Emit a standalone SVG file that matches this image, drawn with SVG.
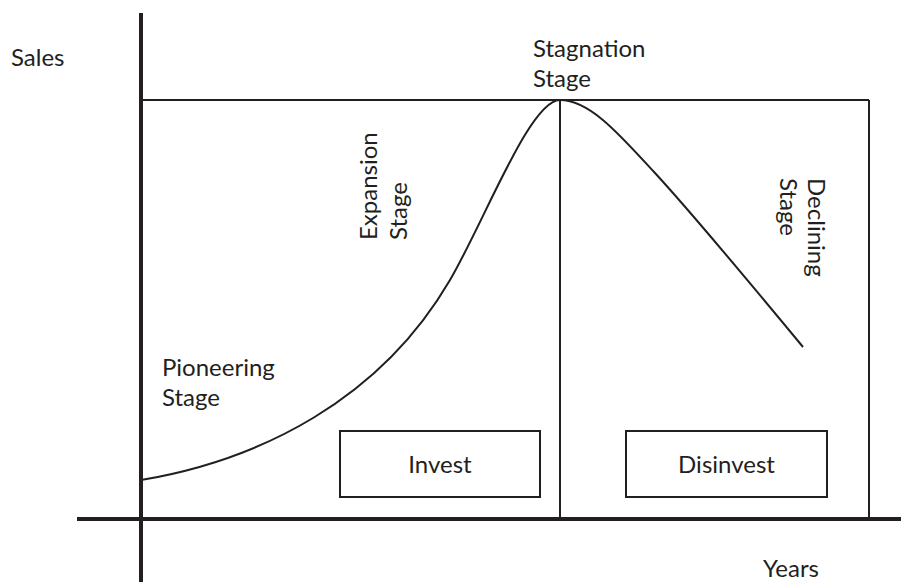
<svg xmlns="http://www.w3.org/2000/svg" width="901" height="582" viewBox="0 0 901 582">
<style>
.t{font-family:Lato,"Liberation Sans",sans-serif;font-size:24px;fill:#231f20}
.axis{stroke:#231f20;stroke-width:4;fill:none}
.ln{stroke:#231f20;stroke-width:2;fill:none}
.box{stroke:#231f20;stroke-width:2;fill:#fff}
</style>
<rect width="901" height="582" fill="#fff"/>
<g id="connectors">
<line class="ln" x1="141" y1="100" x2="869" y2="100"/>
<line class="ln" x1="560" y1="100" x2="560" y2="519"/>
<line class="ln" x1="869" y1="100" x2="869" y2="519"/>
<path class="ln" d="M141,480 C260,460 380,400 450,280 C485,220 530,100 560,100"/>
<path class="ln" d="M560,100 C590,100 620,135 655,173 C690,211 760,295 803,347"/>
<line class="axis" x1="141" y1="13" x2="141" y2="582"/>
<line class="axis" x1="77" y1="519" x2="901" y2="519"/>
</g>
<g id="sales"><text class="t" x="11" y="66">Sales</text></g>
<g id="years"><text class="t" x="763" y="577">Years</text></g>
<g id="stagnation"><text class="t" x="533" y="57">Stagnation</text><text class="t" x="533" y="87">Stage</text></g>
<g id="pioneering"><text class="t" x="162" y="376">Pioneering</text><text class="t" x="162" y="406">Stage</text></g>
<g id="expansion"><text class="t" transform="translate(377,240) rotate(-90)">Expansion</text><text class="t" transform="translate(407,240) rotate(-90)">Stage</text></g>
<g id="declining"><text class="t" transform="translate(808,178) rotate(90)">Declining</text><text class="t" transform="translate(780,178) rotate(90)">Stage</text></g>
<g id="invest"><rect class="box" x="340" y="431" width="200" height="66"/><text class="t" x="440" y="473" text-anchor="middle">Invest</text></g>
<g id="disinvest"><rect class="box" x="626" y="431" width="201" height="66"/><text class="t" x="726.5" y="473" text-anchor="middle">Disinvest</text></g>
</svg>
